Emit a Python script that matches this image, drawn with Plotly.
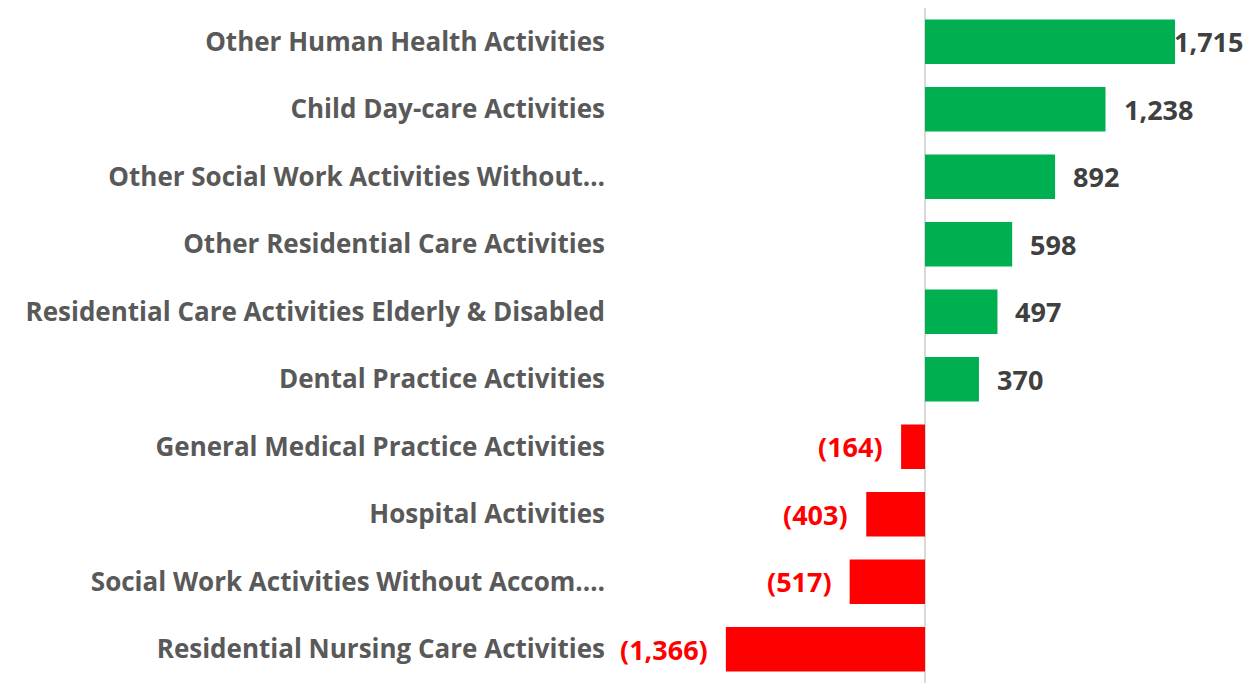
import plotly.graph_objects as go

categories = [
    "Other Human Health Activities",
    "Child Day-care Activities",
    "Other Social Work Activities Without…",
    "Other Residential Care Activities",
    "Residential Care Activities Elderly & Disabled",
    "Dental Practice Activities",
    "General Medical Practice Activities",
    "Hospital Activities",
    "Social Work Activities Without Accom.…",
    "Residential Nursing Care Activities",
]
values = [1715, 1238, 892, 598, 497, 370, -164, -403, -517, -1366]

GREEN = "#00B050"
RED = "#FF0000"
FONT = "Open Sans"
FS = 26
FS_VAL = 27

colors = [GREEN if v >= 0 else RED for v in values]

def fmt(v):
    s = f"{abs(v):,}"
    return s if v >= 0 else f"({s})"

fig = go.Figure(go.Bar(
    x=values, y=categories, orientation="h",
    marker=dict(color=colors, line=dict(width=0)),
    hoverinfo="skip",
))

vmax = max(values)
for c, v in zip(categories, values):
    if v >= 0:
        shift = -3 if v == vmax else 16
        fig.add_annotation(x=v, y=c, text=f"<b>{fmt(v)}</b>", showarrow=False,
                           xanchor="left", xshift=shift,
                           font=dict(family=FONT, size=FS_VAL, color="#404040"))
    else:
        fig.add_annotation(x=v, y=c, text=f"<b>{fmt(v)}</b>", showarrow=False,
                           xanchor="right", xshift=-16,
                           font=dict(family=FONT, size=FS_VAL, color=RED))

fig.update_layout(
    width=1252, height=675,
    margin=dict(l=604, r=2, t=0, b=0),
    paper_bgcolor="white", plot_bgcolor="white",
    bargap=0.34,
    showlegend=False,
    xaxis=dict(range=[-2147, 2284], showgrid=False, showticklabels=False,
               zeroline=True, zerolinecolor="#d9d9d9", zerolinewidth=2,
               fixedrange=True),
    yaxis=dict(autorange="reversed", showgrid=False, ticks="",
               tickmode="array", tickvals=categories,
               ticktext=[f"<b>{c}</b>" for c in categories],
               tickfont=dict(family=FONT, size=FS, color="#595959"),
               ticklabelstandoff=6, fixedrange=True),
)

fig.write_html("out.html")
